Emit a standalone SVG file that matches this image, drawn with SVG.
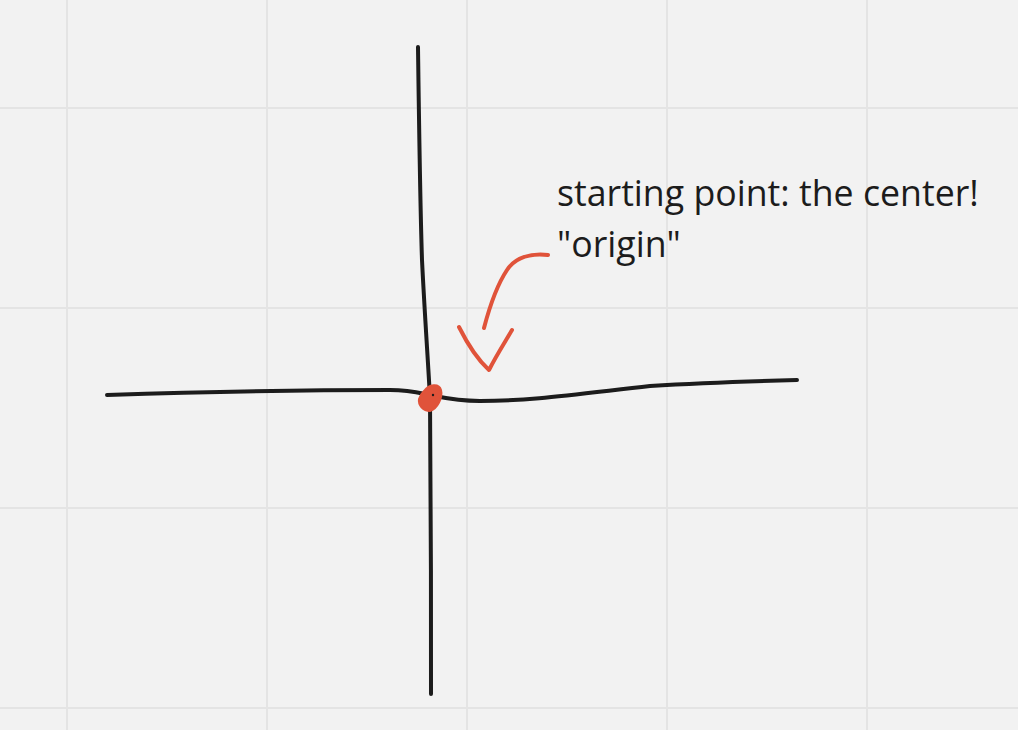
<svg xmlns="http://www.w3.org/2000/svg" width="1018" height="730" viewBox="0 0 1018 730">
<style>
.grid{stroke:#e4e4e4;stroke-width:2;fill:none}
.ink{stroke:#1c1c1c;stroke-width:4;fill:none;stroke-linecap:round;stroke-linejoin:round}
.red{stroke:#e0533a;stroke-width:4;fill:none;stroke-linecap:round;stroke-linejoin:round}
.txt{font-family:"Open Sans","Noto Sans",sans-serif;font-size:35.7px;fill:#1c1c1c}
</style>
<rect width="1018" height="730" fill="#f2f2f2"/>
<g id="grid">
<path class="grid" d="M67 0V730M267 0V730M467 0V730M667 0V730M867 0V730M0 108H1018M0 308H1018M0 508H1018M0 708H1018"/>
</g>
<g id="axes">
<path class="ink" d="M418 47 C419 120 420 200 422 260 C425 320 428 360 430 398 C431 480 431 600 431 694"/>
<path class="ink" d="M107 395 C200 392 300 390 390 390 C410 390 420 393 430 395 C445 398 455 401 480 401 C530 401 570 395 650 386 C700 383 760 381 797 380"/>
</g>
<g id="origin">
<path d="M424 391 C429 384 439 383 441 390 C443 398 437 409 430 411 C423 411 418 405 419 399 C420 396 422 393 424 391Z" fill="#e0533a" stroke="#e0533a" stroke-width="2"/>
<circle cx="433" cy="395" r="1.2" fill="#1c1c1c"/>
</g>
<g id="label">
<text class="txt" x="557" y="206">starting point: the center!</text>
<text class="txt" x="557" y="257">"origin"</text>
</g>
<g id="connectors">
<path class="red" d="M548 255 C530 253 515 258 507 270 C497 285 490 305 484 328"/>
<path class="red" d="M459 327 C468 345 478 360 489 370 C496 356 505 342 512 330"/>
</g>
</svg>
